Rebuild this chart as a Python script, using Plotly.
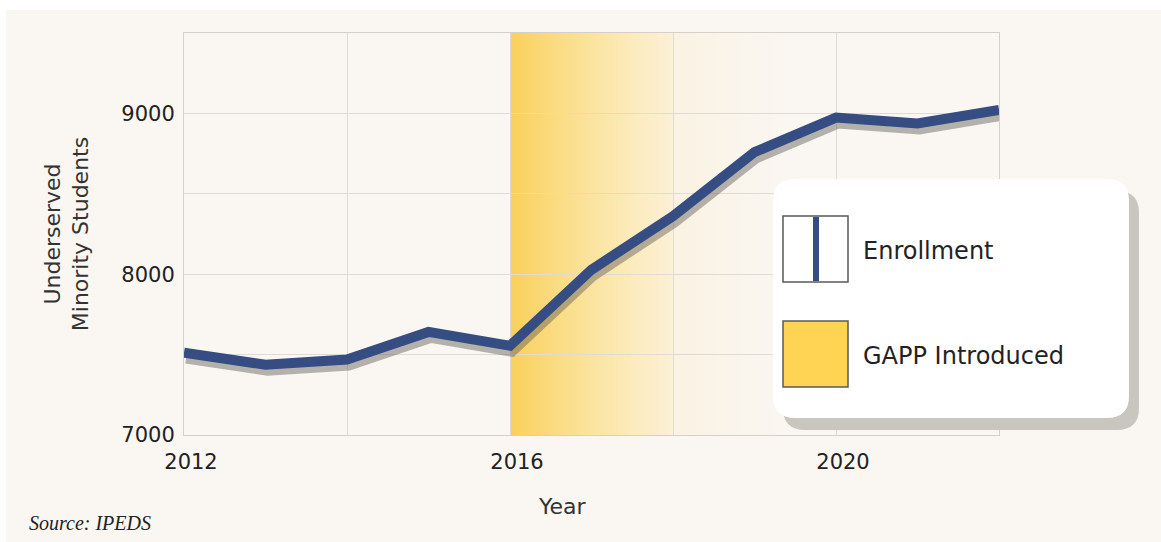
import base64
import plotly.graph_objects as go

# ---------------- data ----------------
years = [2012, 2013, 2014, 2015, 2016, 2017, 2018, 2019, 2020, 2021, 2022]
enrollment = [7512, 7437, 7469, 7641, 7555, 8028, 8361, 8759, 8974, 8938, 9022]
x_tick_vals = [2012, 2016, 2020]
x_tick_labels = ["2012", "2016", "2020"]
y_tick_vals = [7000, 8000, 9000]
y_tick_labels = ["7000", "8000", "9000"]
gapp_start = 2016
gapp_fade_end = 2019.5
series_names = ["Enrollment", "GAPP Introduced"]
x_title = "Year"
y_title = "Underserved<br>Minority Students"
source_text = "<i>Source: IPEDS</i>"

# ---------------- style ----------------
W, H = 1161, 542
L, R, T, B = 184, 162, 33, 107
PW, PH = W - L - R, H - T - B
X_RANGE = [2012, 2022]
Y_RANGE = [7000, 9500]
CREAM = "#FAF7F2"
GRID = "#E0DCD5"
NAVY = "#354D82"
SHADOW = "rgba(95,90,85,0.45)"
YELLOW = "#FFD454"
SANS = "DejaVu Sans"


def fx(px):
    return (px - L) / PW


def fy(py):
    return (H - B - py) / PH


def rrect(x0, y0, x1, y1, r):
    pts = [
        ("M", [(x0 + r, y0)]), ("L", [(x1 - r, y0)]), ("Q", [(x1, y0), (x1, y0 + r)]),
        ("L", [(x1, y1 - r)]), ("Q", [(x1, y1), (x1 - r, y1)]), ("L", [(x0 + r, y1)]),
        ("Q", [(x0, y1), (x0, y1 - r)]), ("L", [(x0, y0 + r)]), ("Q", [(x0, y0), (x0 + r, y0)]),
    ]
    s = ""
    for cmd, ps in pts:
        s += cmd + " " + " ".join(f"{fx(a):.5f},{fy(b):.5f}" for a, b in ps) + " "
    return s + "Z"


# shadow offset (pixels) expressed through shifted overlay axes
dx_px, dy_px = 2, 6
xspan = X_RANGE[1] - X_RANGE[0]
yspan = Y_RANGE[1] - Y_RANGE[0]
x2_range = [X_RANGE[0] - dx_px * xspan / PW, X_RANGE[1] - dx_px * xspan / PW]
y2_range = [Y_RANGE[0] + dy_px * yspan / PH, Y_RANGE[1] + dy_px * yspan / PH]

fig = go.Figure()
fig.add_trace(go.Scatter(x=years, y=enrollment, mode="lines", name=series_names[0] + " shadow",
                         line=dict(color=SHADOW, width=10), xaxis="x2", yaxis="y2",
                         showlegend=False, hoverinfo="skip"))
fig.add_trace(go.Scatter(x=years, y=enrollment, mode="lines", name=series_names[0],
                         line=dict(color=NAVY, width=10), xaxis="x3", yaxis="y3",
                         showlegend=False))

# gradient band (GAPP introduced) as an svg image below gridlines
svg = (
    '<svg xmlns="http://www.w3.org/2000/svg" width="350" height="100" viewBox="0 0 350 100" '
    'preserveAspectRatio="none"><defs><linearGradient id="g" x1="0" x2="1" y1="0" y2="0">'
    '<stop offset="0" stop-color="#F9D05A"/>'
    '<stop offset="0.14" stop-color="#FADA7C"/>'
    '<stop offset="0.29" stop-color="#FBE4A0"/>'
    '<stop offset="0.43" stop-color="#FCEBBD"/>'
    '<stop offset="0.571" stop-color="#FCF0D6"/>'
    '<stop offset="0.572" stop-color="#FAF2E2"/>'
    '<stop offset="0.8" stop-color="#FAF5EC"/>'
    '<stop offset="1" stop-color="#FAF7F2"/>'
    '</linearGradient></defs><rect x="0" y="0" width="350" height="100" fill="url(#g)"/></svg>'
)
src = "data:image/svg+xml;base64," + base64.b64encode(svg.encode()).decode()
fig.add_layout_image(dict(source=src, xref="x", yref="y", x=gapp_start, y=Y_RANGE[1],
                          sizex=gapp_fade_end - gapp_start, sizey=yspan, sizing="stretch",
                          xanchor="left", yanchor="top", layer="below", opacity=1))

shapes = []
# white outer strips (top / left)
shapes.append(dict(type="rect", xref="paper", yref="paper", x0=fx(0), x1=fx(W), y0=fy(10), y1=fy(0),
                   fillcolor="white", line=dict(width=0), layer="above"))
shapes.append(dict(type="rect", xref="paper", yref="paper", x0=fx(0), x1=fx(6), y0=fy(H), y1=fy(0),
                   fillcolor="white", line=dict(width=0), layer="above"))
# legend box shadow + box
shapes.append(dict(type="path", xref="paper", yref="paper", path=rrect(783, 191, 1139, 430, 22),
                   fillcolor="#C9C5BF", line=dict(width=0), layer="above"))
shapes.append(dict(type="path", xref="paper", yref="paper", path=rrect(773, 179, 1129, 418, 22),
                   fillcolor="white", line=dict(width=0), layer="above"))
# swatch 1: enrollment
shapes.append(dict(type="rect", xref="paper", yref="paper", x0=fx(783), x1=fx(848), y0=fy(282), y1=fy(216),
                   fillcolor="white", line=dict(color="#5A5A5A", width=1.5), layer="above"))
shapes.append(dict(type="line", xref="paper", yref="paper", x0=fx(816), x1=fx(816), y0=fy(281), y1=fy(217),
                   line=dict(color=NAVY, width=6), layer="above"))
# swatch 2: GAPP
shapes.append(dict(type="rect", xref="paper", yref="paper", x0=fx(783), x1=fx(848), y0=fy(387), y1=fy(321),
                   fillcolor=YELLOW, line=dict(color="#5A5A5A", width=1.5), layer="above"))

annotations = [
    dict(text=series_names[0], xref="paper", yref="paper", x=fx(861), y=fy(251), xanchor="left",
         yanchor="middle", showarrow=False, font=dict(family=SANS, size=24, color="#222222")),
    dict(text=series_names[1], xref="paper", yref="paper", x=fx(861), y=fy(356), xanchor="left",
         yanchor="middle", showarrow=False, font=dict(family=SANS, size=24, color="#222222")),
    dict(text=x_title, xref="paper", yref="paper", x=fx(562), y=fy(506), xanchor="center",
         yanchor="middle", showarrow=False, font=dict(family=SANS, size=22, color="#333333")),
    dict(text=source_text, xref="paper", yref="paper", x=fx(27), y=fy(523), xanchor="left",
         yanchor="middle", showarrow=False,
         font=dict(family="Liberation Serif", size=20, color="#222222")),
]

axis_common = dict(showline=True, linecolor="#D5D1CA", linewidth=1, mirror=True, zeroline=False,
                   gridcolor=GRID, gridwidth=1)

fig.update_layout(
    width=W, height=H,
    margin=dict(l=L, r=R, t=T, b=B, pad=0),
    paper_bgcolor=CREAM, plot_bgcolor=CREAM,
    showlegend=False,
    shapes=shapes,
    annotations=annotations,
    xaxis=dict(range=X_RANGE, tickmode="array", tickvals=x_tick_vals, ticktext=x_tick_labels,
               ticks="outside", ticklen=8, tickcolor="rgba(0,0,0,0)", ticklabelshift=7,
               tickfont=dict(family=SANS, size=21, color="#222222"),
               minor=dict(tick0=2012, dtick=2, showgrid=True, gridcolor=GRID, gridwidth=1),
               **axis_common),
    yaxis=dict(range=Y_RANGE, tickmode="array", tickvals=y_tick_vals, ticktext=y_tick_labels,
               ticks="outside", ticklen=4, tickcolor="rgba(0,0,0,0)",
               tickfont=dict(family=SANS, size=21, color="#222222"),
               minor=dict(tick0=7000, dtick=500, showgrid=True, gridcolor=GRID, gridwidth=1),
               title=dict(text=y_title, font=dict(family=SANS, size=22, color="#333333"), standoff=26),
               **axis_common),
    xaxis2=dict(range=x2_range, overlaying="x", visible=False, anchor="y2"),
    yaxis2=dict(range=y2_range, overlaying="y", visible=False, anchor="x2"),
    xaxis3=dict(range=X_RANGE, overlaying="x", visible=False, anchor="y3"),
    yaxis3=dict(range=Y_RANGE, overlaying="y", visible=False, anchor="x3"),
)

fig.write_html("out.html", include_plotlyjs=True, full_html=True,
               config={"displayModeBar": False},
               post_script="document.body.style.margin='0px';")
